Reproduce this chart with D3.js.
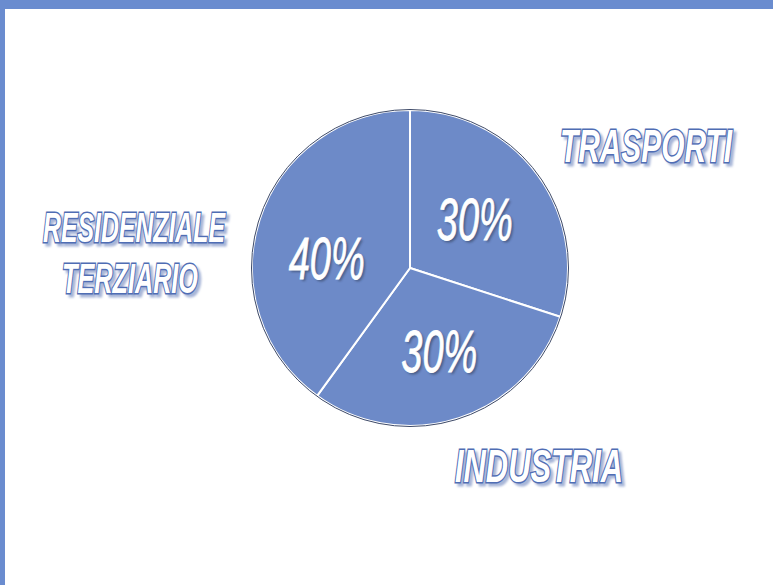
<!DOCTYPE html>
<html>
<head>
<meta charset="utf-8">
<script src="https://cdn.jsdelivr.net/npm/d3@7"></script>
<style>
  html, body { margin: 0; padding: 0; background: #fff; }
  svg { display: block; }
</style>
</head>
<body>
<div id="chart"></div>
<script>
// data
var categories = ["TRASPORTI", "INDUSTRIA", "RESIDENZIALE TERZIARIO"];
var values = [30, 30, 40];
var valueLabels = ["30%", "30%", "40%"];

var width = 773;
var height = 585;
var cx = 410, cy = 268;
var radius = 158;

var fillColor = "#6d8ac8";
var borderColor = "#6a8ccf";

var svg = d3.select("#chart").append("svg")
  .attr("width", width)
  .attr("height", height);

var defs = svg.append("defs");
defs.append("filter").attr("id", "soft")
  .append("feGaussianBlur").attr("stdDeviation", 1.2);

/* page frame, top and left only */
svg.append("rect").attr("x", 0).attr("y", 0).attr("width", width).attr("height", 9).attr("fill", borderColor);
svg.append("rect").attr("x", 0).attr("y", 0).attr("width", 5).attr("height", height).attr("fill", borderColor);

var pie = d3.pie().sort(null).value(d => d);
var arcs = pie(values);

var arc = d3.arc().innerRadius(0).outerRadius(radius);
var labelArc = d3.arc().innerRadius(95).outerRadius(95);

var g = svg.append("g").attr("transform", `translate(${cx}, ${cy})`);

/* slices */
g.selectAll(".slice")
  .data(arcs).enter()
  .append("path")
  .attr("class", "slice")
  .attr("d", arc)
  .attr("fill", fillColor)
  .attr("stroke", "#ffffff")
  .attr("stroke-width", 2);

/* dark outline round the pie */
g.append("circle")
  .attr("r", radius + 0.5)
  .attr("fill", "none")
  .attr("stroke", "#3e4a68")
  .attr("stroke-width", 1);

/* percent labels */
var pctNudge = [[-12, 28], [0, 14], [7, 40]];
var pct = g.selectAll(".pct")
  .data(arcs).enter()
  .append("g")
  .attr("class", "pct")
  .attr("transform", (d, i) => {
    var c = labelArc.centroid(d);
    return `translate(${c[0] + pctNudge[i][0]}, ${c[1] + pctNudge[i][1]})`;
  });

pct.append("text")
  .attr("x", 2).attr("y", 2)
  .attr("text-anchor", "middle")
  .attr("font-family", "Liberation Sans, Arial, sans-serif")
  .attr("font-style", "italic")
  .attr("font-size", 60)
  .attr("textLength", 76)
  .attr("lengthAdjust", "spacingAndGlyphs")
  .attr("fill", "#2f3a55")
  .attr("opacity", 0.55)
  .attr("filter", "url(#soft)")
  .text((d, i) => valueLabels[i]);

pct.append("text")
  .attr("text-anchor", "middle")
  .attr("font-family", "Liberation Sans, Arial, sans-serif")
  .attr("font-style", "italic")
  .attr("font-size", 60)
  .attr("textLength", 76)
  .attr("lengthAdjust", "spacingAndGlyphs")
  .attr("fill", "#ffffff")
  .attr("stroke", "#ffffff")
  .attr("stroke-width", 0.8)
  .text((d, i) => valueLabels[i]);

/* category labels, outlined white text with a soft shadow */
var catLines = [
  [{t: "TRASPORTI", x: 560, y: 162, size: 46, len: 172}],
  [{t: "INDUSTRIA", x: 455, y: 482, size: 46, len: 168}],
  [{t: "RESIDENZIALE", x: 43, y: 242, size: 42, len: 182},
   {t: "TERZIARIO", x: 62, y: 293, size: 42, len: 136}]
];

categories.forEach(function (c, i) {
  var lines = catLines[i];
  var lg = svg.append("g").attr("class", "cat-label");
  lines.forEach(function (l, j) {
    lg.append("text")
      .attr("x", l.x + 3).attr("y", l.y + 3)
      .attr("font-family", "Liberation Sans, Arial, sans-serif")
      .attr("font-weight", "bold")
      .attr("font-style", "italic")
      .attr("font-size", l.size)
      .attr("textLength", l.len)
      .attr("lengthAdjust", "spacingAndGlyphs")
      .attr("fill", "#a8b6d8")
      .attr("stroke", "#a8b6d8")
      .attr("stroke-width", 3)
      .attr("filter", "url(#soft)")
      .text(c.split(" ")[j]);
    lg.append("text")
      .attr("x", l.x).attr("y", l.y)
      .attr("font-family", "Liberation Sans, Arial, sans-serif")
      .attr("font-weight", "bold")
      .attr("font-style", "italic")
      .attr("font-size", l.size)
      .attr("textLength", l.len)
      .attr("lengthAdjust", "spacingAndGlyphs")
      .attr("fill", "#ffffff")
      .attr("stroke", "#4f6db4")
      .attr("stroke-width", 3)
      .attr("paint-order", "stroke")
      .text(c.split(" ")[j]);
  });
});
</script>
</body>
</html>
